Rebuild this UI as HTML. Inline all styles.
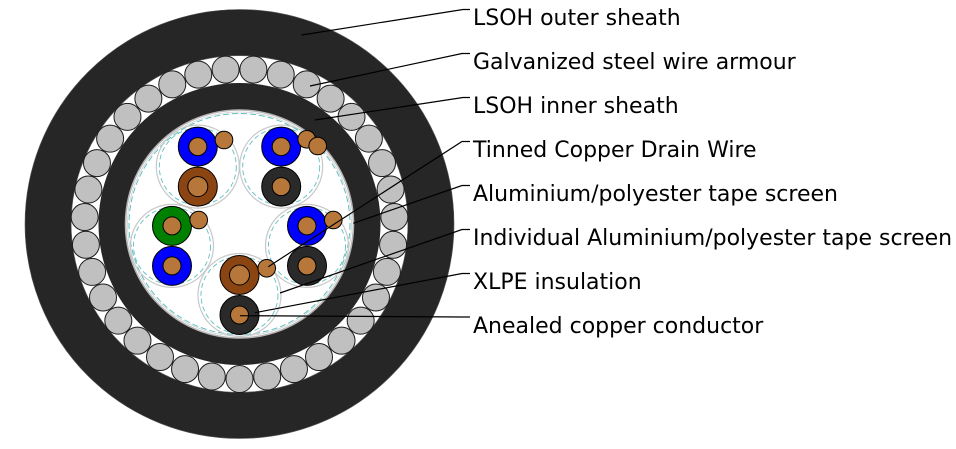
<!DOCTYPE html>
<html>
<head>
<meta charset="utf-8">
<style>
  html,body{margin:0;padding:0;background:#fff;}
  svg{display:block;}
  text{font-family:"DejaVu Sans","Liberation Sans",sans-serif;font-size:22px;fill:#000;}
</style>
</head>
<body>
<svg width="956" height="449" viewBox="0 0 956 449" xmlns="http://www.w3.org/2000/svg">
  <!-- outer sheath -->
  <circle cx="239.5" cy="224" r="214.5" fill="#262626" stroke="#555" stroke-width="0.6"/>
  <!-- armour gap -->
  <circle cx="239.5" cy="224" r="168.3" fill="#fff" stroke="#666" stroke-width="0.6"/>
  <!-- inner sheath -->
  <circle cx="239.5" cy="224" r="141" fill="#262626"/>
  <!-- armour wires -->
  <g fill="#c0c0c0" stroke="#1c1c1c" stroke-width="1">
    <circle cx="239.5" cy="379" r="13.5"/>
    <circle cx="211.82" cy="376.51" r="13.5"/>
    <circle cx="185.04" cy="369.12" r="13.5"/>
    <circle cx="160.00" cy="357.06" r="13.5"/>
    <circle cx="137.47" cy="340.68" r="13.5"/>
    <circle cx="118.32" cy="320.64" r="13.5"/>
    <circle cx="103.01" cy="297.45" r="13.5"/>
    <circle cx="92.09" cy="271.90" r="13.5"/>
    <circle cx="85.90" cy="244.81" r="13.5"/>
    <circle cx="84.66" cy="217.05" r="13.5"/>
    <circle cx="88.41" cy="189.51" r="13.5"/>
    <circle cx="96.98" cy="163.08" r="13.5"/>
    <circle cx="110.12" cy="138.64" r="13.5"/>
    <circle cx="127.47" cy="116.89" r="13.5"/>
    <circle cx="148.39" cy="98.60" r="13.5"/>
    <circle cx="172.25" cy="84.35" r="13.5"/>
    <circle cx="198.26" cy="74.59" r="13.5"/>
    <circle cx="225.61" cy="69.62" r="13.5"/>
    <circle cx="253.39" cy="69.62" r="13.5"/>
    <circle cx="280.74" cy="74.59" r="13.5"/>
    <circle cx="306.75" cy="84.35" r="13.5"/>
    <circle cx="330.61" cy="98.60" r="13.5"/>
    <circle cx="351.53" cy="116.89" r="13.5"/>
    <circle cx="368.88" cy="138.64" r="13.5"/>
    <circle cx="382.02" cy="163.08" r="13.5"/>
    <circle cx="390.59" cy="189.51" r="13.5"/>
    <circle cx="394.34" cy="217.05" r="13.5"/>
    <circle cx="393.10" cy="244.81" r="13.5"/>
    <circle cx="386.91" cy="271.90" r="13.5"/>
    <circle cx="375.99" cy="297.45" r="13.5"/>
    <circle cx="360.68" cy="320.64" r="13.5"/>
    <circle cx="341.53" cy="340.68" r="13.5"/>
    <circle cx="319.00" cy="357.06" r="13.5"/>
    <circle cx="293.96" cy="369.12" r="13.5"/>
    <circle cx="267.18" cy="376.51" r="13.5"/>
  </g>
  <!-- core -->
  <circle cx="239.5" cy="224" r="114" fill="#fff" stroke="#b5b5b5" stroke-width="1.6"/>
  <circle cx="239.5" cy="224" r="112" fill="none" stroke="#cfcfcf" stroke-width="0.8"/>
  <circle cx="239.5" cy="224" r="110.5" fill="none" stroke="#5fc0c0" stroke-width="1" stroke-dasharray="6 3"/>

  <!-- pair circles -->
  <g fill="none">
    <g stroke="#c8c8c8" stroke-width="1.2">
      <circle cx="197.8" cy="166.6" r="41.5"/>
      <circle cx="281.2" cy="166.6" r="41.5"/>
      <circle cx="172.0" cy="245.9" r="41.5"/>
      <circle cx="307.0" cy="245.9" r="41.5"/>
      <circle cx="239.5" cy="295" r="41.5"/>
    </g>
    <g stroke="#5fc0c0" stroke-width="0.9" stroke-dasharray="5 3">
      <circle cx="197.8" cy="166.6" r="38.5"/>
      <circle cx="281.2" cy="166.6" r="38.5"/>
      <circle cx="172.0" cy="245.9" r="38.5"/>
      <circle cx="307.0" cy="245.9" r="38.5"/>
      <circle cx="239.5" cy="295" r="38.5"/>
    </g>
  </g>

  <!-- conductors -->
  <g stroke="#000" stroke-width="1">
    <!-- pair 1 -->
    <circle cx="197.8" cy="146.6" r="19.5" fill="#0000ff"/>
    <circle cx="197.8" cy="146.6" r="9" fill="#b8773a"/>
    <circle cx="197.8" cy="186.6" r="19.5" fill="#8b4513"/>
    <circle cx="197.8" cy="186.6" r="10" fill="#b8773a"/>
    <circle cx="224" cy="140" r="8.8" fill="#b8773a"/>
    <!-- pair 2 -->
    <circle cx="281.2" cy="146.6" r="19.5" fill="#0000ff"/>
    <circle cx="281.2" cy="146.6" r="9" fill="#b8773a"/>
    <circle cx="281.2" cy="186.6" r="19.5" fill="#2a2a2a"/>
    <circle cx="281.2" cy="186.6" r="9" fill="#b8773a"/>
    <circle cx="306.7" cy="139.3" r="8.8" fill="#b8773a"/>
    <circle cx="317.7" cy="146" r="8.8" fill="#b8773a"/>
    <!-- pair 3 -->
    <circle cx="172.0" cy="225.9" r="19.5" fill="#008000"/>
    <circle cx="172.0" cy="225.9" r="9" fill="#b8773a"/>
    <circle cx="172.0" cy="265.9" r="19.5" fill="#0000ff"/>
    <circle cx="172.0" cy="265.9" r="9" fill="#b8773a"/>
    <circle cx="198.7" cy="220" r="8.8" fill="#b8773a"/>
    <!-- pair 4 -->
    <circle cx="307.0" cy="225.9" r="19.5" fill="#0000ff"/>
    <circle cx="307.0" cy="225.9" r="9" fill="#b8773a"/>
    <circle cx="307.0" cy="265.9" r="19.5" fill="#2a2a2a"/>
    <circle cx="307.0" cy="265.9" r="9" fill="#b8773a"/>
    <circle cx="333.3" cy="220" r="8.8" fill="#b8773a"/>
    <!-- pair 5 -->
    <circle cx="239.5" cy="275" r="19.5" fill="#8b4513"/>
    <circle cx="239.5" cy="275" r="10" fill="#b8773a"/>
    <circle cx="239.5" cy="315" r="19.5" fill="#2a2a2a"/>
    <circle cx="239.5" cy="315" r="9" fill="#b8773a"/>
    <circle cx="266.7" cy="268.3" r="8.8" fill="#b8773a"/>
  </g>

  <!-- leader lines -->
  <g fill="none" stroke="#000" stroke-width="1.2">
    <polyline points="301.7,35 463,9.5 470,9.5"/>
    <polyline points="310,86 462,53.5 470,53.5"/>
    <polyline points="315,120 463,97.5 470,97.5"/>
    <polyline points="268.3,266.7 462,141.5 470,141.5"/>
    <polyline points="353.3,223.3 462,185.5 470,185.5"/>
    <polyline points="280,293 462,229.5 470,229.5"/>
    <polyline points="255,312.7 462,273.5 470,273.5"/>
    <polyline points="240,315.7 462,317 470,317"/>
  </g>

  <!-- labels -->
  <text x="473" y="25">LSOH outer sheath</text>
  <text x="473" y="69">Galvanized steel wire armour</text>
  <text x="473" y="113">LSOH inner sheath</text>
  <text x="473" y="157">Tinned Copper Drain Wire</text>
  <text x="473" y="201">Aluminium/polyester tape screen</text>
  <text x="473" y="245">Individual Aluminium/polyester tape screen</text>
  <text x="473" y="289">XLPE insulation</text>
  <text x="473" y="333">Anealed copper conductor</text>
</svg>
</body>
</html>
